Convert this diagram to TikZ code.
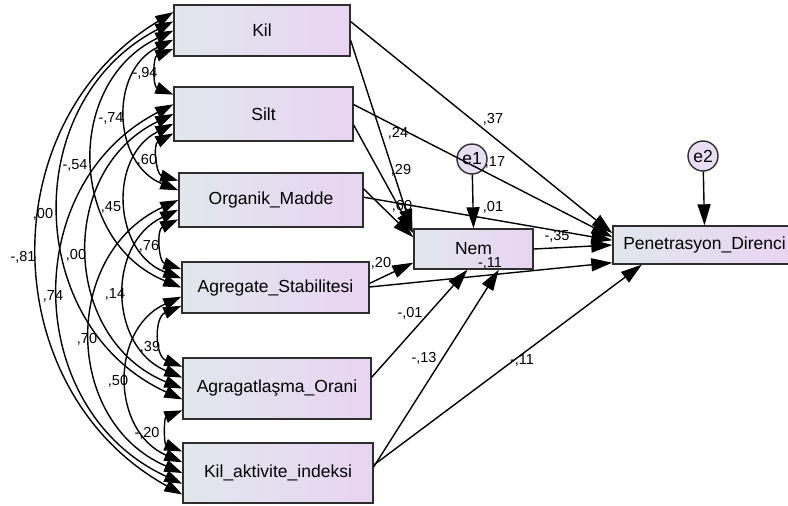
\documentclass[tikz,border=0pt]{standalone}
\usepackage{fontspec}
\setmainfont{Liberation Sans}
\usetikzlibrary{arrows.meta,calc}
\definecolor{boxleft}{HTML}{E1E7EC}
\definecolor{boxright}{HTML}{E9D4F2}
\definecolor{errfill}{HTML}{E9DDF3}
\definecolor{edgegray}{HTML}{2E2E2E}

\begin{document}
\begin{tikzpicture}[x=1pt,y=1pt,
  var/.style={draw=edgegray, line width=1.4pt, left color=boxleft, right color=boxright,
    inner sep=0pt, font=\fontsize{17.5}{20}\selectfont},
  err/.style={circle, draw=edgegray, line width=1.4pt, fill=errfill, minimum size=30pt,
    inner sep=0pt, font=\fontsize{17.5}{20}\selectfont},
  reg/.style={-{Triangle[length=21pt,width=13pt]}, line width=1.4pt},
  cov/.style={{Triangle[length=18pt,width=12pt]}-{Triangle[length=18pt,width=12pt]}, line width=1.4pt},
  spanA/.style={cov, bend right=68, looseness=1.24},
  spanB/.style={cov, bend right=66, looseness=1.21},
  spanC/.style={cov, bend right=64, looseness=1.18},
  spanD/.style={cov, bend right=60, looseness=1.135},
  coef/.style={font=\fontsize{14.5}{16}\selectfont, inner sep=0pt},
]
\useasboundingbox (0,0) rectangle (788,-506);

% observed variables
\node[var, minimum width=176pt, minimum height=51pt] (kil)  at (262,-30.5) {Kil};
\node[var, minimum width=179pt, minimum height=54pt] (silt) at (263.5,-114) {Silt};
\node[var, minimum width=184pt, minimum height=54pt] (org)  at (271,-200) {Organik\_Madde};
\node[var, minimum width=187pt, minimum height=51pt] (agr)  at (275.5,-287.5) {Agregate\_Stabilitesi};
\node[var, minimum width=188pt, minimum height=61pt] (agl)  at (277,-388.5) {Agragatlaşma\_Orani};
\node[var, minimum width=190pt, minimum height=60pt] (kai)  at (278,-473) {Kil\_aktivite\_indeksi};
\node[var, minimum width=119pt, minimum height=40pt] (nem)  at (473.5,-249) {Nem};
\node[var, minimum width=183pt, minimum height=38pt] (pd)   at (704.5,-245) {Penetrasyon\_Direnci};

% error terms
\node[err] (e1) at (472,-159) {e1};
\node[err] (e2) at (703,-156) {e2};

% attachment points on the left edges of the exogenous variables
\foreach \b in {kil,silt,org,agr,agl,kai}{
  \foreach \i/\f in {1/0.15,2/0.325,3/0.5,4/0.675,5/0.85}{
    \coordinate (\b\i) at ($(\b.north west)!\f!(\b.south west)$);
  }
}

% covariances
\draw[spanA] (kil5)  to (silt1);
\draw[spanA] (silt5) to (org1);
\draw[spanA] (org5)  to (agr1);
\draw[spanA] (agr5)  to (agl1);
\draw[spanA] (agl5)  to (kai1);
\draw[spanB] (kil4)  to (org2);
\draw[spanB] (silt4) to (agr2);
\draw[spanB] (org4)  to (agl2);
\draw[spanB] (agr4)  to (kai2);
\draw[spanB] (kil3)  to (agr3);
\draw[spanB] (silt3) to (agl3);
\draw[spanB] (org3)  to (kai3);
\draw[spanC] (kil2)  to (agl4);
\draw[spanC] (silt2) to (kai4);
\draw[spanD] (kil1)  to (kai5);

% regression paths
\draw[reg] ($(kil.north east)!0.33!(kil.south east)$)   -- ($(pd.north west)!0.2!(pd.south west)$);
\draw[reg] ($(kil.north east)!0.69!(kil.south east)$)   -- ([shift={(-1,-2)}]nem.north west);
\draw[reg] ($(silt.north east)!0.33!(silt.south east)$) -- ($(pd.north west)!0.3!(pd.south west)$);
\draw[reg] ($(silt.north east)!0.70!(silt.south east)$) -- ($(nem.north west)!0.12!(nem.south west)$);
\draw[reg] ($(org.north east)!0.30!(org.south east)$)   -- ($(nem.north west)!0.22!(nem.south west)$);
\draw[reg] ($(org.north east)!0.45!(org.south east)$)   -- ($(pd.north west)!0.38!(pd.south west)$);
\draw[reg] (nem.east) -- ($(pd.north west)!0.5!(pd.south west)$);
\draw[reg] ($(agr.north east)!0.42!(agr.south east)$)   -- ($(nem.north west)!0.83!(nem.south west)$);
\draw[reg] ($(agr.north east)!0.49!(agr.south east)$)   -- ([yshift=2pt]pd.south west);
\draw[reg] ($(agl.north east)!0.32!(agl.south east)$)   -- ($(nem.south west)!0.45!(nem.south east)$);
\draw[reg] ($(kai.north east)!0.40!(kai.south east)$)   -- ($(nem.south west)!0.71!(nem.south east)$);
\draw[reg] ($(kai.north east)!0.37!(kai.south east)$)   -- ($(pd.south west)!0.16!(pd.south east)$);
\draw[reg] (e1) -- (nem.north);
\draw[reg] (e2) -- (pd.north);

% regression weights
\node[coef] (w1)  at (493,-119) {,37};
\node[coef] (w2)  at (398,-133) {,24};
\node[coef] (w3)  at (495,-162) {,17};
\node[coef] (w4)  at (401,-170) {,29};
\node[coef] (w5)  at (402,-206) {,60};
\node[coef] (w6)  at (493,-207) {,01};
\node[coef] (w7)  at (557,-236) {-,35};
\node[coef] (w8)  at (381,-263) {,20};
\node[coef] (w9)  at (490,-263) {-,11};
\node[coef] (w10) at (410,-313) {-,01};
\node[coef] (w11) at (424,-358) {-,13};
\node[coef] (w12) at (522,-360) {-,11};

% correlations
\node[coef] (c1)  at (145,-73)  {-,94};
\node[coef] (c2)  at (111,-118) {-,74};
\node[coef] (c3)  at (75,-165)  {-,54};
\node[coef] (c4)  at (147,-160) {,60};
\node[coef] (c5)  at (111,-207) {,45};
\node[coef] (c6)  at (43,-214)  {,00};
\node[coef] (c7)  at (149,-246) {,76};
\node[coef] (c8)  at (23,-257)  {-,81};
\node[coef] (c9)  at (76,-255)  {,00};
\node[coef] (c10) at (53,-296)  {,74};
\node[coef] (c11) at (115,-294) {,14};
\node[coef] (c12) at (87,-339)  {,70};
\node[coef] (c13) at (150,-347) {,39};
\node[coef] (c14) at (118,-381) {,50};
\node[coef] (c15) at (147,-433) {-,20};
\end{tikzpicture}
\end{document}
